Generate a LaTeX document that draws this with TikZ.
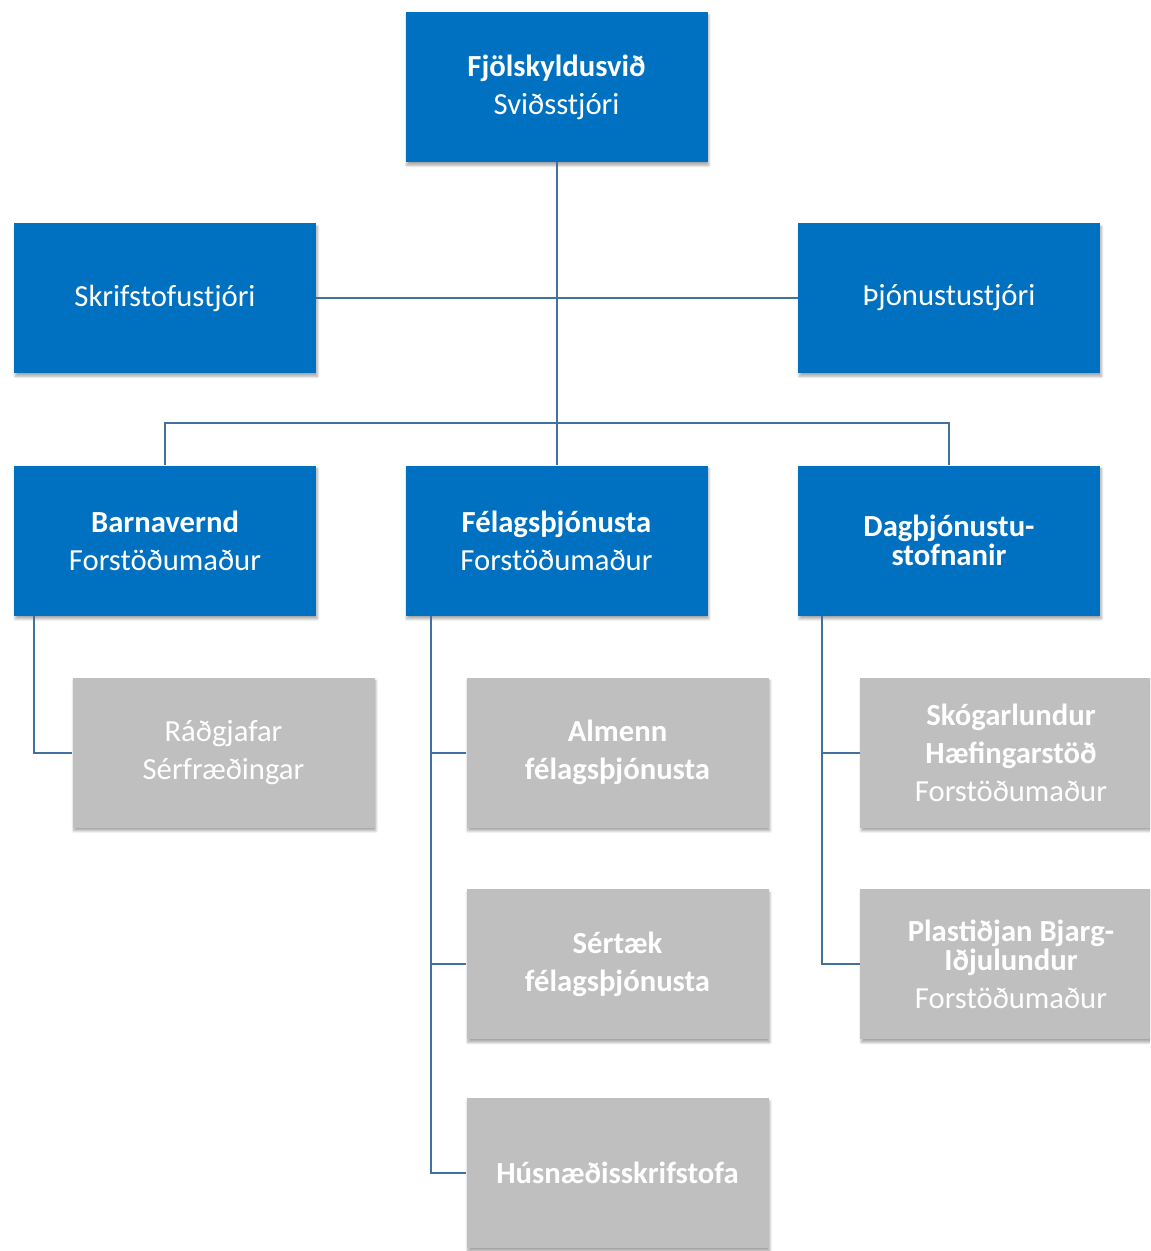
\documentclass[tikz,border=0pt]{standalone}
\usepackage{fontspec}
\setmainfont{Carlito}
\usetikzlibrary{shadows.blur}
\definecolor{orgblue}{RGB}{0,112,192}
\definecolor{orggray}{RGB}{191,191,191}
\definecolor{orgline}{RGB}{65,113,156}

\begin{document}
\begin{tikzpicture}[x=0.75pt,y=0.75pt,yscale=-1,xscale=1,
  bluebox/.style={fill=orgblue, text=white, minimum width=226.5pt, minimum height=112.5pt, inner sep=0pt, align=center,
    font=\fontsize{23}{28.5}\selectfont,
    blur shadow={shadow xshift=1pt, shadow yshift=-2.5pt, shadow blur steps=6, shadow opacity=35}},
  graybox/.style={bluebox, fill=orggray},
  link/.style={draw=orgline, line width=1.5pt}]
\useasboundingbox (0,0) rectangle (1150,1251);
\clip (0,0) rectangle (1150,1251);

% head
\node[bluebox] (head) at (556.5,87) {\textbf{Fjölskyldusvið}\\Sviðsstjóri};
% staff
\node[bluebox] (office) at (165,298) {Skrifstofustjóri};
\node[bluebox] (service) at (949,298) {Þjónustustjóri};
% departments
\node[bluebox] (child) at (165,540.5) {\textbf{Barnavernd}\\Forstöðumaður};
\node[bluebox] (social) at (556.5,540.5) {\textbf{Félagsþjónusta}\\Forstöðumaður};
\node[bluebox] (day) at (949,540.5) {\textbf{Dagþjónustu-}\\[-7pt]\textbf{stofnanir}};
% units
\node[graybox] (advisers) at (223.5,752.5) {Ráðgjafar\\Sérfræðingar};
\node[graybox] (general) at (617.5,752.5) {\textbf{Almenn}\\\textbf{félagsþjónusta}};
\node[graybox] (special) at (617.5,964) {\textbf{Sértæk}\\\textbf{félagsþjónusta}};
\node[graybox] (housing) at (617.5,1173) {\textbf{Húsnæðisskrifstofa}};
\node[graybox] (forest) at (1011,752.5) {\textbf{Skógarlundur}\\\textbf{Hæfingarstöð}\\Forstöðumaður};
\node[graybox] (plastic) at (1011,964) {\textbf{Plastiðjan Bjarg-}\\[-7pt]\textbf{Iðjulundur}\\Forstöðumaður};

% connectors
\coordinate (split) at (556.5,423);
\coordinate (childtrunk) at ([xshift=15pt]child.south west);
\coordinate (socialtrunk) at ([xshift=19pt]social.south west);
\coordinate (daytrunk) at ([xshift=18pt]day.south west);
\draw[link] (head) -- (split);
\draw[link] (office) -- (service);
\draw[link] (child.north) |- (split) -| (day.north);
\draw[link] (split) -- (social);
\draw[link] (childtrunk) |- (advisers);
\draw[link] (socialtrunk) |- (general);
\draw[link] (socialtrunk) |- (special);
\draw[link] (socialtrunk) |- (housing);
\draw[link] (daytrunk) |- (forest);
\draw[link] (daytrunk) |- (plastic);

\end{tikzpicture}
\end{document}
